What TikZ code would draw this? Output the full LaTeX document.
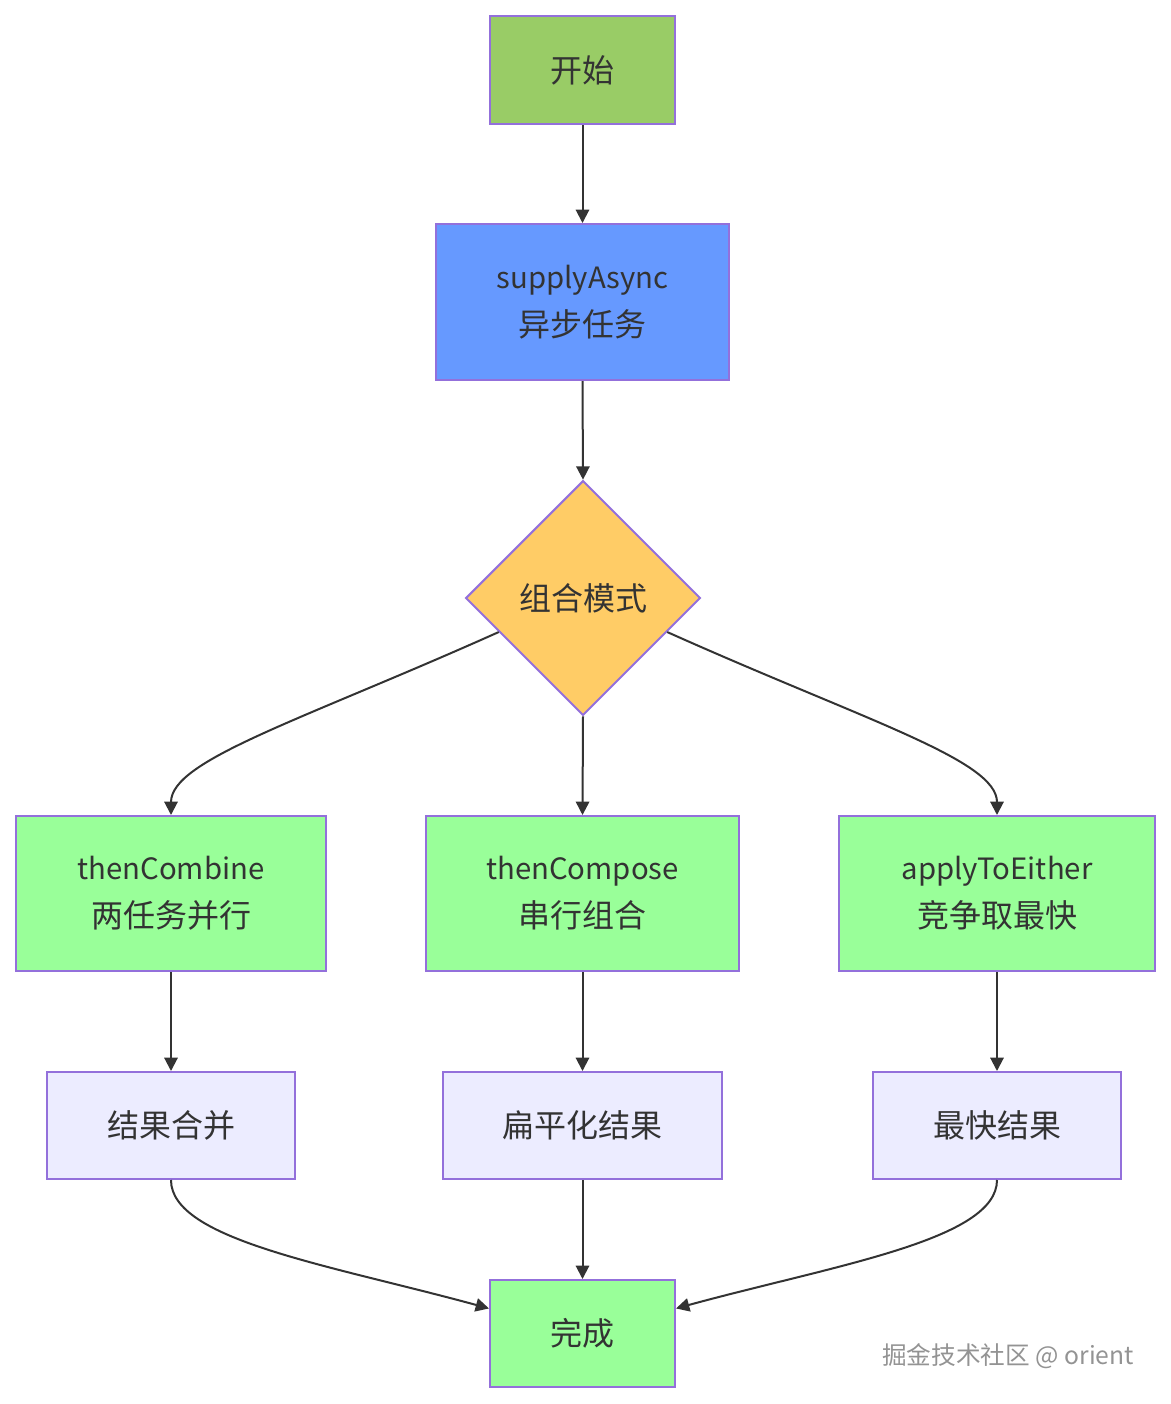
\documentclass[tikz,border=0pt]{standalone}
\usepackage{fontspec}
\setmainfont{Noto Sans CJK SC}
\usetikzlibrary{shapes.geometric,arrows.meta}
\definecolor{txt}{HTML}{333333}
\definecolor{bord}{HTML}{9370DB}
\definecolor{startc}{HTML}{99CC66}
\definecolor{bluec}{HTML}{6699FF}
\definecolor{yelc}{HTML}{FFCC66}
\definecolor{greenc}{HTML}{99FF99}
\definecolor{lavc}{HTML}{ECECFF}
\definecolor{linec}{HTML}{333333}
\newcommand\latw[1]{{\fontsize{22pt}{36pt}\selectfont #1}}
\tikzset{
  box/.style={draw=bord, line width=1.5pt, text=txt, align=center, inner sep=0pt,
    font=\fontsize{24pt}{36pt}\selectfont},
  conn/.style={draw=linec, line width=1.5pt, -{Triangle[length=10pt,width=10pt]}},
}
\begin{document}
\begin{tikzpicture}[x=0.75pt,y=-0.75pt]
\useasboundingbox (0,0) rectangle (1171,1404);
\node[box, fill=startc, minimum width=138.75pt, minimum height=81pt] (start) at (582.5,70) {开始};
\node[box, fill=bluec, minimum width=219.75pt, minimum height=117pt] (supply) at (582.5,302) {\latw{supplyAsync}\\异步任务};
\node[box, fill=yelc, shape=diamond, aspect=1, minimum width=176pt, minimum height=176pt] (mode) at (583,598) {组合模式};
\node[box, fill=greenc, minimum width=232.5pt, minimum height=116.25pt] (comb) at (171,893.5) {\latw{thenCombine}\\两任务并行};
\node[box, fill=greenc, minimum width=234.75pt, minimum height=116.25pt] (comp) at (582.5,893.5) {\latw{thenCompose}\\串行组合};
\node[box, fill=greenc, minimum width=237pt, minimum height=116.25pt] (either) at (997,893.5) {\latw{applyToEither}\\竞争取最快};
\node[box, fill=lavc, minimum width=186pt, minimum height=80.25pt] (merge) at (171,1125.5) {结果合并};
\node[box, fill=lavc, minimum width=209.25pt, minimum height=80.25pt] (flat) at (582.5,1125.5) {扁平化结果};
\node[box, fill=lavc, minimum width=186pt, minimum height=80.25pt] (fast) at (997,1125.5) {最快结果};
\node[box, fill=greenc, minimum width=138.75pt, minimum height=80.25pt] (done) at (582.5,1333.5) {完成};
\node[text=gray!85, font=\fontsize{18.5pt}{20pt}\selectfont] (wm) at (1008,1356) {掘金技术社区 @ orient};

\draw[conn] (start.south) -- (supply.north);
\draw[conn] (supply.south) -- (mode.north);
\draw[conn] (mode.south) -- (comp.north);
\draw[conn] (mode.202) .. controls (300,721) and (171,760) .. (comb.north);
\draw[conn] (mode.338) .. controls (866,721) and (997,760) .. (either.north);
\draw[conn] (comb.south) -- (merge.north);
\draw[conn] (comp.south) -- (flat.north);
\draw[conn] (either.south) -- (fast.north);
\draw[conn] (flat.south) -- (done.north);
\draw[conn] (merge.south) .. controls (171,1240) and (330,1265) .. (done.165);
\draw[conn] (fast.south) .. controls (997,1240) and (835,1265) .. (done.15);
\end{tikzpicture}
\end{document}
